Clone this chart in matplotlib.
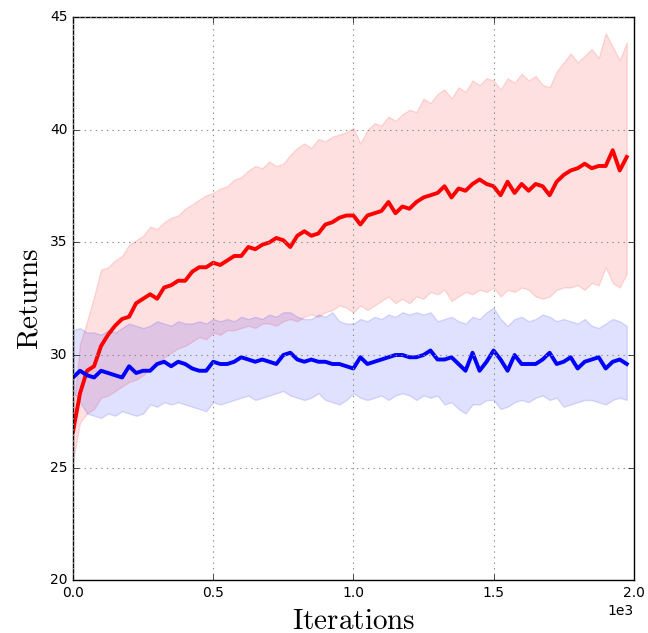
import numpy as np
import matplotlib
matplotlib.use("Agg")
import matplotlib.pyplot as plt

# iteration grid (every 25 iterations)
iterations = np.arange(0, 2000, 25)

# red run: mean and band
red_mean = [26.6, 28.3, 29.3, 29.5, 30.4, 30.9, 31.3, 31.6, 31.7, 32.3,
            32.5, 32.7, 32.5, 33.0, 33.1, 33.3, 33.3, 33.7, 33.9, 33.9,
            34.1, 34.0, 34.2, 34.4, 34.4, 34.8, 34.7, 34.9, 35.0, 35.2,
            35.1, 34.8, 35.3, 35.5, 35.3, 35.4, 35.8, 35.9, 36.1, 36.2,
            36.2, 35.8, 36.2, 36.3, 36.4, 36.8, 36.3, 36.6, 36.5, 36.8,
            37.0, 37.1, 37.2, 37.5, 37.0, 37.4, 37.3, 37.6, 37.8, 37.6,
            37.5, 37.1, 37.7, 37.2, 37.6, 37.3, 37.6, 37.5, 37.1, 37.7,
            38.0, 38.2, 38.3, 38.5, 38.3, 38.4, 38.4, 39.1, 38.2, 38.8]
red_upper = [27.5, 30.5, 31.5, 32.6, 33.8, 33.9, 34.2, 34.4, 34.9, 35.1,
             35.3, 35.7, 35.6, 35.9, 36.1, 36.2, 36.5, 36.7, 36.9, 37.1,
             37.2, 37.4, 37.5, 37.8, 37.9, 38.2, 38.4, 38.3, 38.6, 38.4,
             38.5, 38.9, 39.2, 39.4, 39.2, 39.6, 39.5, 39.7, 39.8, 39.9,
             40.1, 39.4, 40.0, 40.3, 40.2, 40.6, 40.4, 40.7, 40.9, 40.8,
             41.4, 41.2, 41.6, 41.8, 41.4, 41.9, 41.7, 42.2, 42.0, 42.3,
             42.2, 41.8, 42.3, 42.1, 42.5, 42.2, 42.4, 42.0, 41.9, 42.6,
             43.0, 43.4, 43.0, 43.3, 43.6, 43.2, 44.3, 43.7, 43.1, 43.9]
red_lower = [25.3, 27.0, 27.4, 27.6, 28.1, 28.2, 28.4, 28.6, 28.8, 28.9,
             29.1, 29.4, 29.6, 29.9, 30.1, 30.3, 30.4, 30.6, 30.8, 30.7,
             31.0, 30.9, 31.1, 31.1, 31.2, 31.3, 31.2, 31.4, 31.4, 31.3,
             31.5, 31.6, 31.5, 31.7, 31.8, 31.7, 31.9, 32.0, 32.2, 32.1,
             31.9, 32.2, 32.0, 32.2, 32.4, 32.6, 32.3, 32.5, 32.3, 32.6,
             32.5, 32.8, 32.7, 32.9, 32.4, 32.6, 32.8, 32.7, 32.9, 32.8,
             33.0, 32.6, 32.9, 32.8, 33.0, 32.9, 32.6, 32.5, 32.6, 32.9,
             33.0, 33.0, 33.1, 32.9, 33.2, 33.1, 33.9, 33.2, 33.0, 33.6]

# blue run
blue_mean = [29.0, 29.3, 29.1, 29.0, 29.3, 29.2, 29.1, 29.0, 29.5, 29.2,
             29.3, 29.3, 29.6, 29.7, 29.5, 29.7, 29.6, 29.4, 29.3, 29.3,
             29.7, 29.6, 29.6, 29.7, 29.9, 29.8, 29.7, 29.8, 29.7, 29.6,
             30.0, 30.1, 29.8, 29.7, 29.8, 29.7, 29.7, 29.6, 29.6, 29.5,
             29.4, 29.9, 29.6, 29.7, 29.8, 29.9, 30.0, 30.0, 29.9, 29.9,
             30.0, 30.2, 29.8, 29.8, 29.9, 29.6, 29.3, 30.1, 29.3, 29.7,
             30.2, 29.8, 29.3, 30.0, 29.6, 29.6, 29.6, 29.8, 30.1, 29.6,
             29.7, 29.9, 29.4, 29.7, 29.8, 29.9, 29.4, 29.7, 29.8, 29.6]
blue_upper = [31.1, 31.2, 31.0, 31.0, 30.9, 31.1, 31.0, 31.2, 31.4, 31.3,
              31.2, 31.3, 31.5, 31.4, 31.3, 31.5, 31.4, 31.4, 31.5, 31.4,
              31.6, 31.5, 31.6, 31.5, 31.7, 31.6, 31.7, 31.6, 31.8, 31.7,
              31.9, 31.9, 31.7, 31.6, 31.6, 31.8, 31.7, 31.9, 31.5, 31.4,
              31.4, 31.6, 31.5, 31.7, 31.6, 31.8, 31.7, 31.9, 31.8, 31.9,
              31.8, 31.9, 31.5, 31.6, 31.7, 31.5, 31.4, 31.7, 31.6, 31.9,
              32.1, 31.6, 31.3, 31.6, 31.7, 31.5, 31.6, 31.8, 31.7, 31.5,
              31.6, 31.5, 31.4, 31.6, 31.3, 31.2, 31.4, 31.6, 31.5, 31.3]
blue_lower = [28.4, 27.9, 27.4, 27.3, 27.2, 27.4, 27.3, 27.5, 27.4, 27.3,
              27.4, 27.8, 27.7, 27.9, 27.8, 27.9, 27.8, 27.7, 27.6, 27.5,
              27.9, 27.8, 27.9, 28.0, 28.1, 28.2, 28.0, 28.1, 28.2, 28.3,
              28.4, 28.2, 28.1, 28.0, 28.1, 28.3, 28.0, 27.9, 27.8, 28.0,
              28.3, 28.1, 28.0, 28.1, 28.2, 28.0, 28.2, 28.3, 28.2, 28.0,
              28.2, 28.1, 28.2, 27.8, 27.9, 27.6, 27.4, 27.8, 27.8, 28.0,
              28.0, 27.6, 27.7, 27.9, 28.0, 27.9, 28.1, 28.2, 28.0, 28.1,
              27.7, 27.8, 27.9, 28.0, 28.0, 27.9, 27.8, 28.0, 28.1, 28.0]

plt.style.use("classic")
plt.rcParams["mathtext.fontset"] = "cm"

fig = plt.figure(figsize=(6.48, 6.33), dpi=100, facecolor="white")
ax = fig.add_axes([0.1127, 0.0837, 0.8653, 0.8887])

ax.fill_between(iterations, red_lower, red_upper, color="red", alpha=0.12, lw=1)
ax.fill_between(iterations, blue_lower, blue_upper, color="blue", alpha=0.12, lw=1)
ax.plot(iterations, red_mean, color="red", lw=2.8)
ax.plot(iterations, blue_mean, color="blue", lw=2.8)

ax.set_xlim(0, 2000)
ax.set_ylim(20, 45)
ax.set_xticks([0, 500, 1000, 1500, 2000])
ax.ticklabel_format(axis="x", style="sci", scilimits=(0, 0))
ax.grid(True, color="0.55", linestyle=":", lw=0.8)
ax.tick_params(labelsize=10)
ax.xaxis.get_offset_text().set_fontsize(10)

ax.set_xlabel(r"$\mathrm{Iterations}$", fontsize=21)
ax.set_ylabel(r"$\mathrm{Returns}$", fontsize=21)

fig.savefig("out.png", dpi=100, facecolor="white")
